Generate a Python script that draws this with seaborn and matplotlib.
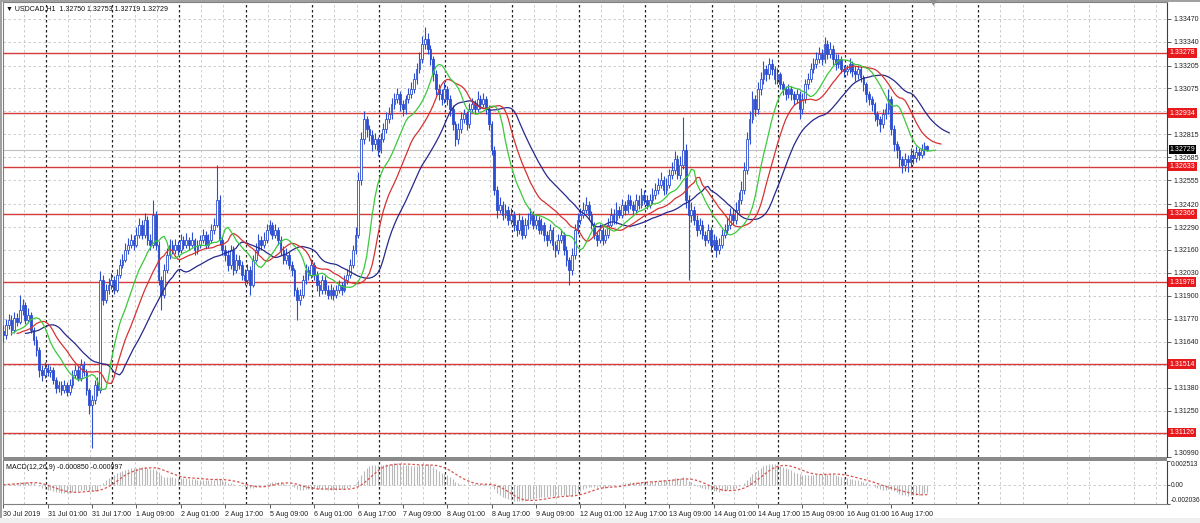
import numpy as np
import pandas as pd
import matplotlib
matplotlib.use("Agg")
import matplotlib.pyplot as plt
import matplotlib.transforms as mtransforms
from matplotlib.patches import Rectangle, Polygon
import seaborn as sns

# --- values (USDCAD H1) ---
symbol_text = "\u25BC USDCAD,H1  1.32750 1.32753 1.32719 1.32729"
macd_text = "MACD(12,26,9) -0.000850 -0.000997"

first_open = 1.31700
closes = [
    1.31680, 1.31736, 1.31765, 1.31708, 1.31776, 1.31753, 1.31821, 1.31850, 1.31765, 1.31793,
    1.31708, 1.31651, 1.31594, 1.31481, 1.31453, 1.31492, 1.31470, 1.31481, 1.31424, 1.31379,
    1.31396, 1.31367, 1.31396, 1.31356, 1.31396, 1.31453, 1.31481, 1.31436, 1.31509, 1.31470,
    1.31367, 1.31282, 1.31311, 1.31396, 1.31367, 1.31992, 1.31878, 1.31935, 1.31963, 1.31992,
    1.31935, 1.32020, 1.32077, 1.32105, 1.32162, 1.32190, 1.32219, 1.32190, 1.32247, 1.32304,
    1.32247, 1.32332, 1.32219, 1.32190, 1.32360, 1.32190, 1.31992, 1.31907, 1.32048, 1.32134,
    1.32190, 1.32162, 1.32190, 1.32162, 1.32219, 1.32190, 1.32219, 1.32190, 1.32219, 1.32162,
    1.32190, 1.32219, 1.32247, 1.32190, 1.32219, 1.32275, 1.32304, 1.32446, 1.32219, 1.32162,
    1.32134, 1.32077, 1.32162, 1.32048, 1.32105, 1.32077, 1.32020, 1.31992, 1.32048, 1.31963,
    1.32105, 1.32162, 1.32219, 1.32190, 1.32219, 1.32275, 1.32304, 1.32247, 1.32275, 1.32219,
    1.32162, 1.32105, 1.32134, 1.32077, 1.32048, 1.31935, 1.31878, 1.31907, 1.31992, 1.32048,
    1.32020, 1.32077, 1.32020, 1.31963, 1.31935, 1.31992, 1.31935, 1.31907, 1.31935, 1.31907,
    1.31935, 1.31963, 1.31935, 1.31992, 1.32020, 1.32077, 1.32162, 1.32247, 1.32559, 1.32786,
    1.32900, 1.32843, 1.32814, 1.32758, 1.32786, 1.32729, 1.32786, 1.32843, 1.32900, 1.32928,
    1.32985, 1.33013, 1.33042, 1.32985, 1.32956, 1.33013, 1.33042, 1.33070, 1.33127, 1.33183,
    1.33240, 1.33325, 1.33354, 1.33297, 1.33240, 1.33155, 1.33070, 1.33042, 1.33013, 1.33070,
    1.33013, 1.32956, 1.32871, 1.32786, 1.32843, 1.32900, 1.32928, 1.32871, 1.32956, 1.32985,
    1.32956, 1.33013, 1.32985, 1.33013, 1.32956, 1.32871, 1.32729, 1.32502, 1.32389, 1.32417,
    1.32360, 1.32389, 1.32332, 1.32360, 1.32304, 1.32275, 1.32332, 1.32247, 1.32304, 1.32332,
    1.32360, 1.32304, 1.32332, 1.32275, 1.32304, 1.32247, 1.32219, 1.32275, 1.32190, 1.32162,
    1.32219, 1.32247, 1.32162, 1.32105, 1.32048, 1.32134, 1.32275, 1.32332, 1.32360, 1.32389,
    1.32417, 1.32360, 1.32304, 1.32247, 1.32219, 1.32275, 1.32219, 1.32247, 1.32304, 1.32360,
    1.32332, 1.32389, 1.32360, 1.32417, 1.32389, 1.32446, 1.32417, 1.32389, 1.32446, 1.32417,
    1.32474, 1.32446, 1.32417, 1.32446, 1.32474, 1.32502, 1.32531, 1.32559, 1.32502, 1.32531,
    1.32587, 1.32616, 1.32673, 1.32587, 1.32644, 1.32729, 1.32446, 1.32360, 1.32389, 1.32332,
    1.32275, 1.32304, 1.32247, 1.32219, 1.32275, 1.32190, 1.32219, 1.32162, 1.32190, 1.32247,
    1.32275, 1.32304, 1.32360, 1.32332, 1.32389, 1.32446, 1.32502, 1.32616, 1.32786, 1.32900,
    1.33013, 1.32956, 1.33070, 1.33127, 1.33183, 1.33155, 1.33212, 1.33183, 1.33127, 1.33155,
    1.33098, 1.33070, 1.33042, 1.33070, 1.33042, 1.33013, 1.33042, 1.32956, 1.33013, 1.33098,
    1.33127, 1.33183, 1.33212, 1.33240, 1.33269, 1.33240, 1.33325, 1.33269, 1.33297, 1.33240,
    1.33212, 1.33240, 1.33183, 1.33172, 1.33183, 1.33212, 1.33172, 1.33155, 1.33183, 1.33138,
    1.33098, 1.33042, 1.33013, 1.32985, 1.32928, 1.32900, 1.32871, 1.32928, 1.32956, 1.33013,
    1.32843, 1.32758, 1.32729, 1.32673, 1.32644, 1.32673, 1.32661, 1.32701, 1.32684, 1.32718,
    1.32701, 1.32729, 1.32750, 1.32729,
]
highs = [
    1.31735, 1.31770, 1.31800, 1.31790, 1.31810, 1.31805, 1.31907, 1.31880, 1.31865, 1.31830,
    1.31810, 1.31725, 1.31670, 1.31610, 1.31510, 1.31525, 1.31515, 1.31505, 1.31495, 1.31440,
    1.31420, 1.31415, 1.31425, 1.31410, 1.31430, 1.31480, 1.31510, 1.31500, 1.31540, 1.31530,
    1.31485, 1.31380, 1.31340, 1.31425, 1.31440, 1.32040, 1.32020, 1.31970, 1.32000, 1.32030,
    1.32010, 1.32050, 1.32110, 1.32140, 1.32200, 1.32230, 1.32250, 1.32245, 1.32290, 1.32340,
    1.32330, 1.32370, 1.32350, 1.32250, 1.32446, 1.32380, 1.32210, 1.32010, 1.32080, 1.32170,
    1.32220, 1.32215, 1.32225, 1.32210, 1.32250, 1.32240, 1.32255, 1.32235, 1.32260, 1.32230,
    1.32215, 1.32245, 1.32280, 1.32265, 1.32250, 1.32310, 1.32340, 1.32644, 1.32470, 1.32240,
    1.32190, 1.32160, 1.32190, 1.32180, 1.32140, 1.32130, 1.32100, 1.32050, 1.32080, 1.32070,
    1.32130, 1.32200, 1.32250, 1.32240, 1.32260, 1.32310, 1.32330, 1.32320, 1.32305, 1.32290,
    1.32240, 1.32180, 1.32170, 1.32150, 1.32100, 1.32060, 1.31950, 1.31940, 1.32020, 1.32080,
    1.32070, 1.32110, 1.32090, 1.32040, 1.31990, 1.32020, 1.32010, 1.31960, 1.31965, 1.31950,
    1.31960, 1.31990, 1.31980, 1.32020, 1.32050, 1.32110, 1.32190, 1.32290, 1.32600, 1.32830,
    1.32950, 1.32920, 1.32870, 1.32840, 1.32820, 1.32800, 1.32820, 1.32880, 1.32940, 1.32970,
    1.33020, 1.33050, 1.33080, 1.33060, 1.33010, 1.33040, 1.33080, 1.33110, 1.33160, 1.33220,
    1.33280, 1.33370, 1.33422, 1.33390, 1.33320, 1.33260, 1.33180, 1.33100, 1.33070, 1.33110,
    1.33090, 1.33040, 1.32980, 1.32890, 1.32880, 1.32940, 1.32960, 1.32950, 1.32990, 1.33020,
    1.33010, 1.33060, 1.33040, 1.33050, 1.33030, 1.32980, 1.32890, 1.32750, 1.32520, 1.32460,
    1.32440, 1.32420, 1.32410, 1.32400, 1.32380, 1.32330, 1.32370, 1.32350, 1.32340, 1.32370,
    1.32400, 1.32380, 1.32360, 1.32350, 1.32340, 1.32320, 1.32270, 1.32310, 1.32290, 1.32210,
    1.32250, 1.32280, 1.32260, 1.32180, 1.32120, 1.32170, 1.32310, 1.32370, 1.32400, 1.32430,
    1.32460, 1.32440, 1.32380, 1.32320, 1.32270, 1.32310, 1.32290, 1.32280, 1.32340, 1.32400,
    1.32390, 1.32430, 1.32410, 1.32450, 1.32440, 1.32480, 1.32470, 1.32440, 1.32480, 1.32470,
    1.32510, 1.32500, 1.32470, 1.32480, 1.32510, 1.32540, 1.32570, 1.32600, 1.32580, 1.32570,
    1.32620, 1.32660, 1.32720, 1.32700, 1.32690, 1.32911, 1.32760, 1.32470, 1.32430, 1.32410,
    1.32360, 1.32340, 1.32330, 1.32270, 1.32310, 1.32290, 1.32250, 1.32240, 1.32230, 1.32280,
    1.32310, 1.32340, 1.32400, 1.32390, 1.32430, 1.32490, 1.32550, 1.32660, 1.32830, 1.32950,
    1.33060, 1.33040, 1.33110, 1.33170, 1.33230, 1.33210, 1.33250, 1.33240, 1.33200, 1.33190,
    1.33170, 1.33120, 1.33090, 1.33100, 1.33090, 1.33060, 1.33070, 1.33060, 1.33050, 1.33130,
    1.33160, 1.33220, 1.33250, 1.33280, 1.33310, 1.33300, 1.33365, 1.33350, 1.33340, 1.33320,
    1.33270, 1.33270, 1.33260, 1.33210, 1.33210, 1.33250, 1.33230, 1.33200, 1.33210, 1.33200,
    1.33150, 1.33110, 1.33060, 1.33030, 1.33000, 1.32950, 1.32920, 1.32960, 1.32990, 1.33070,
    1.33030, 1.32870, 1.32780, 1.32750, 1.32690, 1.32710, 1.32700, 1.32740, 1.32730, 1.32750,
    1.32740, 1.32760, 1.32770, 1.32753,
]
lows = [
    1.31640, 1.31655, 1.31710, 1.31680, 1.31690, 1.31730, 1.31740, 1.31790, 1.31740, 1.31745,
    1.31690, 1.31620, 1.31560, 1.31440, 1.31420, 1.31435, 1.31445, 1.31440, 1.31400, 1.31350,
    1.31355, 1.31340, 1.31350, 1.31330, 1.31340, 1.31380, 1.31435, 1.31415, 1.31420, 1.31445,
    1.31340, 1.31230, 1.31040, 1.31290, 1.31330, 1.31350, 1.31850, 1.31860, 1.31910, 1.31940,
    1.31910, 1.31920, 1.32000, 1.32060, 1.32090, 1.32140, 1.32170, 1.32160, 1.32175, 1.32230,
    1.32220, 1.32230, 1.32190, 1.32160, 1.32170, 1.32160, 1.31960, 1.31821, 1.31890, 1.32030,
    1.32110, 1.32140, 1.32140, 1.32130, 1.32145, 1.32165, 1.32170, 1.32160, 1.32175, 1.32130,
    1.32140, 1.32170, 1.32200, 1.32165, 1.32170, 1.32200, 1.32250, 1.32290, 1.32190, 1.32130,
    1.32100, 1.32040, 1.32050, 1.32020, 1.32030, 1.32050, 1.31990, 1.31960, 1.31970, 1.31907,
    1.31950, 1.32090, 1.32140, 1.32160, 1.32170, 1.32200, 1.32250, 1.32220, 1.32230, 1.32190,
    1.32130, 1.32080, 1.32080, 1.32050, 1.32010, 1.31900, 1.31765, 1.31850, 1.31890, 1.31970,
    1.31990, 1.32000, 1.31990, 1.31930, 1.31900, 1.31910, 1.31910, 1.31880, 1.31885, 1.31878,
    1.31890, 1.31915, 1.31905, 1.31920, 1.31970, 1.32000, 1.32060, 1.32140, 1.32230, 1.32530,
    1.32760, 1.32800, 1.32780, 1.32720, 1.32730, 1.32690, 1.32710, 1.32770, 1.32820, 1.32880,
    1.32900, 1.32960, 1.32990, 1.32950, 1.32920, 1.32930, 1.32990, 1.33020, 1.33050, 1.33100,
    1.33160, 1.33220, 1.33300, 1.33270, 1.33210, 1.33120, 1.33040, 1.33010, 1.32980, 1.32990,
    1.32980, 1.32920, 1.32840, 1.32750, 1.32760, 1.32820, 1.32880, 1.32840, 1.32850, 1.32940,
    1.32930, 1.32940, 1.32960, 1.32970, 1.32930, 1.32840, 1.32700, 1.32470, 1.32340, 1.32370,
    1.32330, 1.32340, 1.32300, 1.32310, 1.32270, 1.32240, 1.32250, 1.32220, 1.32230, 1.32280,
    1.32310, 1.32280, 1.32280, 1.32250, 1.32250, 1.32210, 1.32180, 1.32200, 1.32160, 1.32120,
    1.32140, 1.32200, 1.32130, 1.32070, 1.31963, 1.32020, 1.32110, 1.32250, 1.32310, 1.32340,
    1.32370, 1.32330, 1.32280, 1.32220, 1.32180, 1.32200, 1.32190, 1.32200, 1.32230, 1.32290,
    1.32310, 1.32310, 1.32340, 1.32340, 1.32360, 1.32370, 1.32390, 1.32360, 1.32370, 1.32390,
    1.32400, 1.32420, 1.32390, 1.32400, 1.32420, 1.32450, 1.32480, 1.32510, 1.32470, 1.32480,
    1.32510, 1.32560, 1.32590, 1.32560, 1.32560, 1.32620, 1.32400, 1.31992, 1.32320, 1.32300,
    1.32240, 1.32250, 1.32220, 1.32180, 1.32200, 1.32150, 1.32160, 1.32120, 1.32140, 1.32170,
    1.32230, 1.32250, 1.32280, 1.32300, 1.32310, 1.32370, 1.32420, 1.32480, 1.32590, 1.32760,
    1.32880, 1.32920, 1.32930, 1.33040, 1.33100, 1.33120, 1.33130, 1.33150, 1.33100, 1.33100,
    1.33070, 1.33040, 1.33010, 1.33020, 1.33010, 1.32980, 1.32990, 1.32900, 1.32930, 1.32990,
    1.33070, 1.33110, 1.33160, 1.33190, 1.33220, 1.33210, 1.33220, 1.33240, 1.33250, 1.33210,
    1.33180, 1.33190, 1.33160, 1.33140, 1.33150, 1.33160, 1.33140, 1.33120, 1.33130, 1.33110,
    1.33060, 1.33000, 1.32980, 1.32950, 1.32890, 1.32860, 1.32830, 1.32850, 1.32900, 1.32930,
    1.32810, 1.32720, 1.32680, 1.32630, 1.32599, 1.32610, 1.32600, 1.32630, 1.32650, 1.32660,
    1.32670, 1.32680, 1.32700, 1.32719,
]

time_labels = [
    "30 Jul 2019", "31 Jul 01:00", "31 Jul 17:00", "1 Aug 09:00", "2 Aug 01:00",
    "2 Aug 17:00", "5 Aug 09:00", "6 Aug 01:00", "6 Aug 17:00", "7 Aug 09:00",
    "8 Aug 01:00", "8 Aug 17:00", "9 Aug 09:00", "12 Aug 01:00", "12 Aug 17:00",
    "13 Aug 09:00", "14 Aug 01:00", "14 Aug 17:00", "15 Aug 09:00", "16 Aug 01:00",
    "16 Aug 17:00",
]
level_prices = [1.33278, 1.32934, 1.32633, 1.32366, 1.31978, 1.31514, 1.31126]
last_price = 1.32729
price_ticks = [1.33470, 1.33340, 1.33205, 1.33075, 1.32945, 1.32815, 1.32685, 1.32555,
               1.32420, 1.32290, 1.32160, 1.32030, 1.31900, 1.31770, 1.31640, 1.31510,
               1.31380, 1.31250, 1.31120, 1.30990]
macd_ticks = [0.002513, 0.0, -0.002036]
macd_tick_labels = ["0.002513", "0.00", "-0.002036"]

assert len(closes) == len(highs) == len(lows)

sns.set_style("white")
plt.rcParams["font.family"] = ["Liberation Sans", "DejaVu Sans"]

n = len(closes)
bars = np.arange(n)
c = np.array(closes)
h = np.array(highs)
l = np.array(lows)
o = np.concatenate([[first_open], c[:-1]])

# Alligator (SMMA of median price, shifted forward)
median = (h + l) / 2


def smma(values, period):
    out = np.empty_like(values)
    out[0] = values[0]
    for k in range(1, len(values)):
        out[k] = (out[k - 1] * (period - 1) + values[k]) / period
    return out


alligator = pd.concat([
    pd.DataFrame({"bar": bars + shift, "value": smma(median, per), "line": name})
    for name, per, shift in [("jaw", 13, 8), ("teeth", 8, 5), ("lips", 5, 3)]
])

# MACD(12,26,9), signal as SMA like MetaTrader
cs = pd.Series(c)
macd = cs.ewm(span=12, adjust=False).mean() - cs.ewm(span=26, adjust=False).mean()
signal = macd.rolling(9, min_periods=1).mean()
macd_df = pd.DataFrame({"bar": bars, "signal": signal})

# --- figure, laid out in pixels like the terminal window ---
W, H = 1200, 523
fig = plt.figure(figsize=(12, 5.23), dpi=100, facecolor="white")


def px_axes(x0, y0, x1, y1, **kw):
    return fig.add_axes([x0 / W, 1 - y1 / H, (x1 - x0) / W, (y1 - y0) / H], **kw)


ax = px_axes(3, 2, 1167, 457)
axm = px_axes(3, 461, 1167, 504, sharex=ax)

xlim = (-0.04, 419.4)
ax.set_xlim(*xlim)
ax.set_ylim(1.309872, 1.335650)
axm.set_ylim(-0.002036, 0.002513)

grid_col = "#c4c4c4"
grid_ls = (0, (3, 3))
sep_bars = [15.4 + 24 * k for k in range(15)]
light_bars = [15.4 + 8 * k for k in range(-1, 51) if k % 3 != 0]
for a in (ax, axm):
    a.vlines(light_bars, *a.get_ylim(), color=grid_col, lw=0.6, ls=grid_ls, zorder=1)
    a.vlines(sep_bars, *a.get_ylim(), color="#222222", lw=0.9, ls=(0, (2, 2)), zorder=1.5)
for t in price_ticks:
    ax.axhline(t, color=grid_col, lw=0.6, ls=grid_ls, zorder=1)
axm.axhline(0, color=grid_col, lw=0.6, ls=grid_ls, zorder=1)

# support / resistance levels and current price line
for p in level_prices:
    ax.axhline(p, color="#d43c3c", lw=1.0, zorder=3)
ax.axhline(last_price, color="#c0c0c0", lw=0.8, zorder=2)

# candles
blue = "#2d4ed0"
up = c >= o
ax.vlines(bars, l, h, color=blue, lw=0.8, zorder=4)
ax.bar(bars, np.abs(c - o), bottom=np.minimum(c, o), width=0.62,
       color=np.where(up, "white", blue), edgecolor=blue, linewidth=0.6, zorder=5)

sns.lineplot(data=alligator, x="bar", y="value", hue="line", estimator=None,
             palette={"jaw": "#27288a", "teeth": "#d63232", "lips": "#3cc83c"},
             lw=0.9, legend=False, ax=ax, zorder=6)

# MACD panel
axm.vlines(bars, 0, macd.values, color="#b8b8b8", lw=0.8, zorder=3)
sns.lineplot(data=macd_df, x="bar", y="signal", color="#d9534f", lw=0.9,
             ls=(0, (2, 1.6)), ax=axm, zorder=4)

# axes styling
for a in (ax, axm):
    a.set_xlabel("")
    a.set_ylabel("")
    a.yaxis.tick_right()
    for side in ("left", "top", "right", "bottom"):
        a.spines[side].set_color("#808080")
        a.spines[side].set_linewidth(0.8)
    a.spines["right"].set_color("#404040")
ax.spines["bottom"].set_visible(False)
axm.spines["top"].set_visible(False)

# tick labels hidden behind a level tag are left empty
tick_text = [
    "" if min(abs(t - p) for p in level_prices) < 0.0002 else f"{t:.5f}"
    for t in price_ticks
]
ax.set_yticks(price_ticks)
ax.set_yticklabels(tick_text)
ax.tick_params(axis="y", right=True, length=3, width=0.6, color="#404040",
               labelsize=5.0, pad=1.5, labelcolor="#202020")
ax.tick_params(axis="x", bottom=False, labelbottom=False)
ax.get_yticklabels()[-1].set_verticalalignment("bottom")

axm.set_yticks(macd_ticks)
axm.set_yticklabels(macd_tick_labels)
axm.tick_params(axis="y", right=True, length=2, width=0.6, color="#404040",
                labelsize=4.8, pad=0.8, labelcolor="#202020")
mlabels = axm.get_yticklabels()
mlabels[0].set_verticalalignment("top")
mlabels[-1].set_verticalalignment("bottom")
label_bars = [16 * k for k in range(len(time_labels))]
axm.set_xticks(label_bars)
axm.set_xticklabels(time_labels, ha="left")
axm.tick_params(axis="x", bottom=True, length=3, width=0.6, color="#404040",
                labelsize=5.1, pad=2, labelcolor="#202020")
axm.set_xlim(*xlim)

# price tags on the right scale
trans = mtransforms.blended_transform_factory(ax.transAxes, ax.transData)
for p in level_prices:
    ax.text(1.0022, p, f"{p:.5f}", transform=trans, ha="left", va="center",
            fontsize=5.0, color="white", clip_on=False, zorder=10,
            bbox=dict(boxstyle="square,pad=0.2", fc="#e8191d", ec="none"))
ax.text(1.0022, last_price, f"{last_price:.5f}", transform=trans, ha="left",
        va="center", fontsize=5.0, color="white", clip_on=False, zorder=10,
        bbox=dict(boxstyle="square,pad=0.15", fc="black", ec="none"))

ax.text(0.003, 0.993, symbol_text, transform=ax.transAxes, ha="left", va="top",
        fontsize=5.0, color="#101010", zorder=12)
axm.text(0.003, 0.93, macd_text, transform=axm.transAxes, ha="left", va="top",
         fontsize=5.0, color="#101010", zorder=12)

# terminal frame
fig.patches.append(Rectangle((0, 0), 2 / W, 1, transform=fig.transFigure,
                             fc="#a0a0a0", ec="none"))
fig.patches.append(Rectangle((0, 1 - 2 / H), 1, 2 / H, transform=fig.transFigure,
                             fc="#a0a0a0", ec="none"))
fig.patches.append(Rectangle((3 / W, 1 - 461 / H), 1164 / W, 4 / H,
                             transform=fig.transFigure, fc="#8a8a8a", ec="none"))
fig.patches.append(Rectangle((0, 0), 1, 5 / H, transform=fig.transFigure,
                             fc="#f0f0f0", ec="none"))
fig.patches.append(Polygon([(930 / W, 1), (937 / W, 1), (933.5 / W, 1 - 6 / H)],
                           closed=True, transform=fig.transFigure, fc="#909090", ec="none"))

fig.savefig("out.png", dpi=100, facecolor="white")
